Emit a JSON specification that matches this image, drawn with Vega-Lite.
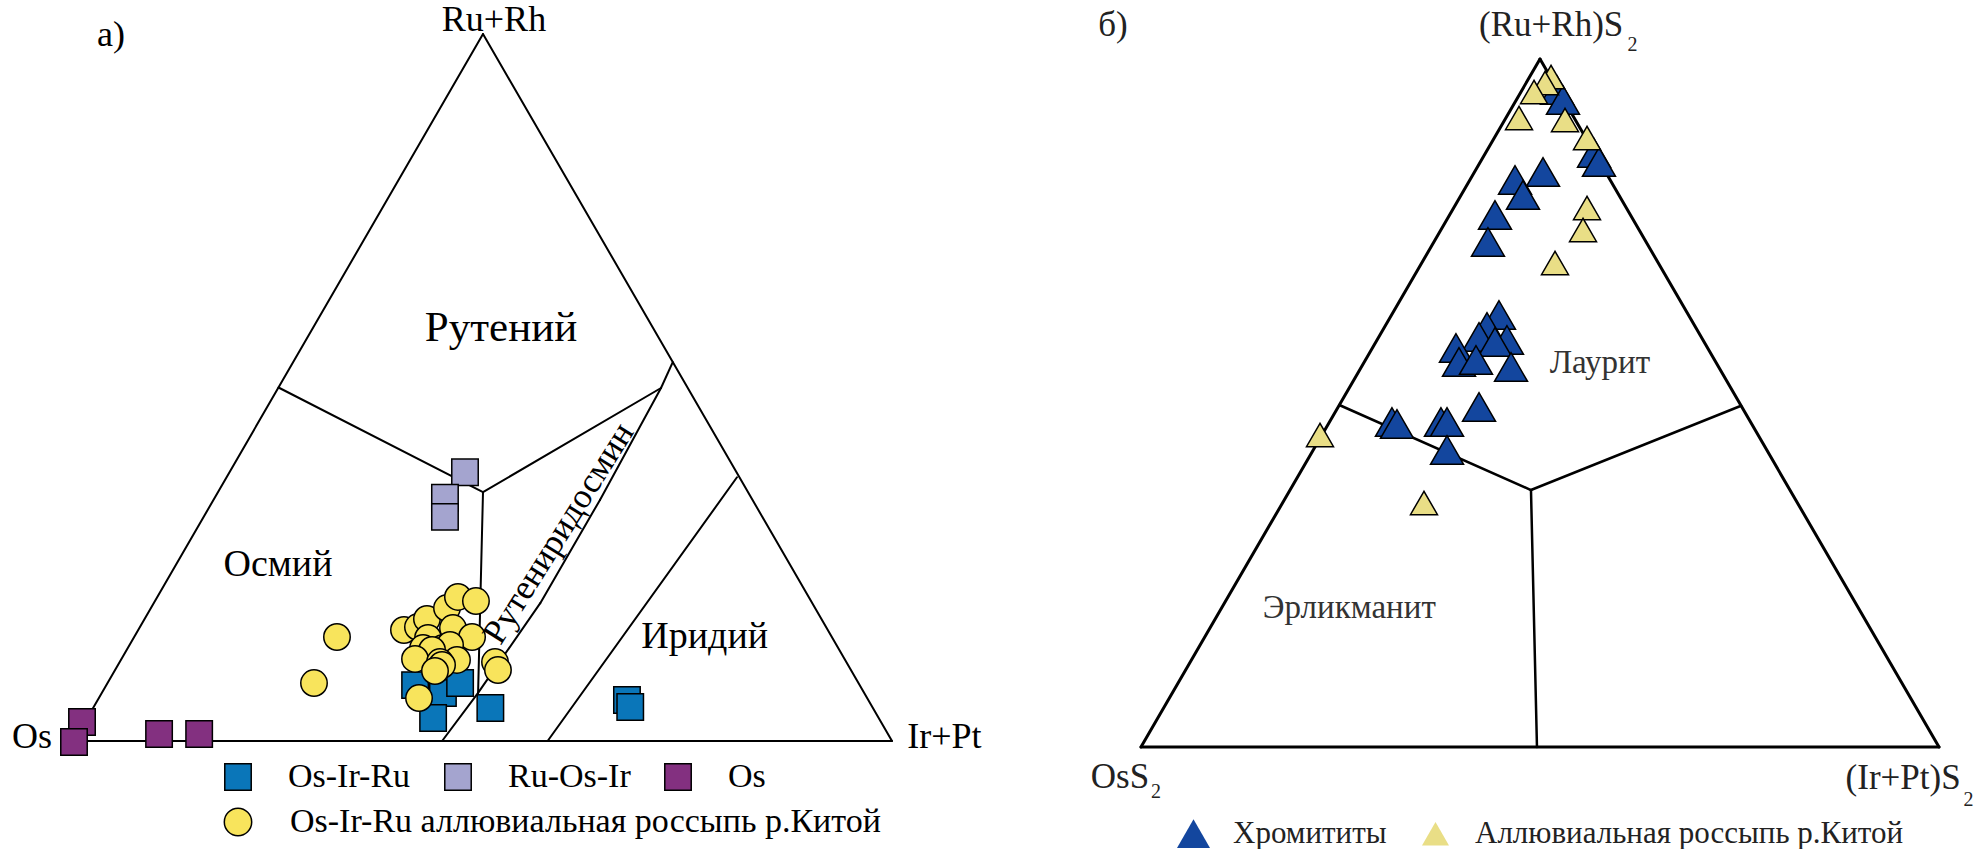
{
  "$schema": "https://vega.github.io/schema/vega-lite/v6.json",
  "padding": 0,
  "spacing": 0,
  "bounds": "flush",
  "background": "white",
  "config": {"view": {"stroke": null}},
  "resolve": {"scale": {"x": "independent", "y": "independent", "color": "independent", "shape": "independent", "size": "independent"}, "legend": {"color": "independent", "shape": "independent"}},
  "datasets": {
    "a_outline": [{"x": 0, "y": 0, "x2": 100, "y2": 0}, {"x": 100, "y": 0, "x2": 50, "y2": 100}, {"x": 50, "y": 100, "x2": 0, "y2": 0}],
    "a_bounds": [
      {"x": 25.0, "y": 50.0, "x2": 50.0, "y2": 35.2},
      {"x": 50.0, "y": 35.2, "x2": 71.76, "y2": 49.93},
      {"x": 71.76, "y": 49.93, "x2": 73.2, "y2": 53.6},
      {"x": 50.0, "y": 35.2, "x2": 49.4, "y2": 6.8},
      {"x": 45.0, "y": 0, "x2": 49.4, "y2": 6.8},
      {"x": 49.4, "y": 6.8, "x2": 57.0, "y2": 19.5},
      {"x": 57.0, "y": 19.5, "x2": 64.3, "y2": 34.1},
      {"x": 64.3, "y": 34.1, "x2": 71.76, "y2": 49.93},
      {"x": 57.9, "y": 0, "x2": 81.05, "y2": 37.3}
    ],
    "a_squares": [
      {"type": "Os", "x": 0.98, "y": 2.69},
      {"type": "Os", "x": 0.0, "y": -0.14},
      {"type": "Os", "x": 10.4, "y": 0.99},
      {"type": "Os", "x": 15.3, "y": 0.99},
      {"type": "Ru-Os-Ir", "x": 47.8, "y": 38.0},
      {"type": "Ru-Os-Ir", "x": 45.35, "y": 34.4},
      {"type": "Ru-Os-Ir", "x": 45.35, "y": 31.7},
      {"type": "Os-Ir-Ru", "x": 41.7, "y": 7.9},
      {"type": "Os-Ir-Ru", "x": 45.1, "y": 6.8},
      {"type": "Os-Ir-Ru", "x": 47.2, "y": 8.2},
      {"type": "Os-Ir-Ru", "x": 43.9, "y": 3.25},
      {"type": "Os-Ir-Ru", "x": 50.9, "y": 4.67},
      {"type": "Os-Ir-Ru", "x": 67.6, "y": 5.8},
      {"type": "Os-Ir-Ru", "x": 68.0, "y": 4.8}
    ],
    "a_circles": [
      {"type": "Os-Ir-Ru аллювиальная россыпь р.Китой", "x": 32.15, "y": 14.71},
      {"type": "Os-Ir-Ru аллювиальная россыпь р.Китой", "x": 29.34, "y": 8.2},
      {"type": "Os-Ir-Ru аллювиальная россыпь р.Китой", "x": 40.34, "y": 15.7},
      {"type": "Os-Ir-Ru аллювиальная россыпь р.Китой", "x": 42.05, "y": 16.12},
      {"type": "Os-Ir-Ru аллювиальная россыпь р.Китой", "x": 43.15, "y": 17.26},
      {"type": "Os-Ir-Ru аллювиальная россыпь р.Китой", "x": 45.6, "y": 18.81},
      {"type": "Os-Ir-Ru аллювиальная россыпь р.Китой", "x": 46.94, "y": 20.37},
      {"type": "Os-Ir-Ru аллювиальная россыпь р.Китой", "x": 49.14, "y": 19.8},
      {"type": "Os-Ir-Ru аллювиальная россыпь р.Китой", "x": 46.33, "y": 15.98},
      {"type": "Os-Ir-Ru аллювиальная россыпь р.Китой", "x": 48.66, "y": 14.71},
      {"type": "Os-Ir-Ru аллювиальная россыпь р.Китой", "x": 43.28, "y": 14.57},
      {"type": "Os-Ir-Ru аллювиальная россыпь р.Китой", "x": 45.11, "y": 13.15},
      {"type": "Os-Ir-Ru аллювиальная россыпь р.Китой", "x": 42.67, "y": 13.15},
      {"type": "Os-Ir-Ru аллювиальная россыпь р.Китой", "x": 45.97, "y": 13.58},
      {"type": "Os-Ir-Ru аллювиальная россыпь р.Китой", "x": 43.77, "y": 12.87},
      {"type": "Os-Ir-Ru аллювиальная россыпь р.Китой", "x": 41.69, "y": 11.6},
      {"type": "Os-Ir-Ru аллювиальная россыпь р.Китой", "x": 46.82, "y": 11.46},
      {"type": "Os-Ir-Ru аллювиальная россыпь р.Китой", "x": 44.74, "y": 11.17},
      {"type": "Os-Ir-Ru аллювиальная россыпь р.Китой", "x": 44.99, "y": 10.75},
      {"type": "Os-Ir-Ru аллювиальная россыпь р.Китой", "x": 44.13, "y": 9.9},
      {"type": "Os-Ir-Ru аллювиальная россыпь р.Китой", "x": 42.18, "y": 6.08},
      {"type": "Os-Ir-Ru аллювиальная россыпь р.Китой", "x": 51.47, "y": 11.17},
      {"type": "Os-Ir-Ru аллювиальная россыпь р.Китой", "x": 51.83, "y": 10.04}
    ],
    "a_vlabels": [
      {"x": 51.34, "y": 102.0, "t": "Ru+Rh"},
      {"x": -5.13, "y": 0.57, "t": "Os"},
      {"x": 106.4, "y": 0.57, "t": "Ir+Pt"},
      {"x": 4.52, "y": 99.86, "t": "а)"}
    ],
    "a_rlabels": [
      {"x": 24.94, "y": 24.89, "t": "Осмий"},
      {"x": 77.1, "y": 14.75, "t": "Иридий"}
    ],
    "a_rlabel_big": [{"x": 52.2, "y": 58.4, "t": "Рутений"}],
    "a_rot": [{"x": 59.2, "y": 29.4, "t": "Рутениридосмин"}],
    "b_outline": [{"x": 0, "y": 0, "x2": 100, "y2": 0}, {"x": 100, "y": 0, "x2": 50, "y2": 100}, {"x": 50, "y": 100, "x2": 0, "y2": 0}],
    "b_bounds": [
      {"x": 24.85, "y": 49.71, "x2": 48.87, "y2": 37.35},
      {"x": 48.87, "y": 37.35, "x2": 75.2, "y2": 49.6},
      {"x": 48.87, "y": 37.35, "x2": 49.62, "y2": 0}
    ],
    "b_points": [
      {"type": "Хромититы", "x": 52.13, "y": 95.49},
      {"type": "Хромититы", "x": 52.88, "y": 94.04},
      {"type": "Хромититы", "x": 56.77, "y": 86.34},
      {"type": "Хромититы", "x": 57.39, "y": 85.03},
      {"type": "Хромититы", "x": 50.38, "y": 83.58},
      {"type": "Хромититы", "x": 46.87, "y": 82.41},
      {"type": "Хромититы", "x": 47.87, "y": 80.23},
      {"type": "Хромититы", "x": 44.36, "y": 77.33},
      {"type": "Хромититы", "x": 43.48, "y": 73.4},
      {"type": "Хромититы", "x": 44.86, "y": 62.79},
      {"type": "Хромититы", "x": 43.36, "y": 61.05},
      {"type": "Хромититы", "x": 45.86, "y": 59.16},
      {"type": "Хромититы", "x": 42.36, "y": 59.59},
      {"type": "Хромититы", "x": 44.36, "y": 58.87},
      {"type": "Хромититы", "x": 39.47, "y": 57.99},
      {"type": "Хромититы", "x": 39.85, "y": 55.96},
      {"type": "Хромититы", "x": 41.98, "y": 56.25},
      {"type": "Хромититы", "x": 46.37, "y": 55.23},
      {"type": "Хромититы", "x": 42.36, "y": 49.42},
      {"type": "Хромититы", "x": 31.45, "y": 47.24},
      {"type": "Хромититы", "x": 32.08, "y": 46.95},
      {"type": "Хромититы", "x": 37.59, "y": 47.24},
      {"type": "Хромититы", "x": 38.35, "y": 47.24},
      {"type": "Хромититы", "x": 38.35, "y": 43.17},
      {"type": "Аллювиальная россыпь р.Китой", "x": 51.38, "y": 97.38},
      {"type": "Аллювиальная россыпь р.Китой", "x": 50.63, "y": 96.51},
      {"type": "Аллювиальная россыпь р.Китой", "x": 49.25, "y": 95.2},
      {"type": "Аллювиальная россыпь р.Китой", "x": 47.37, "y": 91.42},
      {"type": "Аллювиальная россыпь р.Китой", "x": 53.13, "y": 91.13},
      {"type": "Аллювиальная россыпь р.Китой", "x": 55.89, "y": 88.52},
      {"type": "Аллювиальная россыпь р.Китой", "x": 55.89, "y": 78.34},
      {"type": "Аллювиальная россыпь р.Китой", "x": 55.39, "y": 75.15},
      {"type": "Аллювиальная россыпь р.Китой", "x": 51.88, "y": 70.35},
      {"type": "Аллювиальная россыпь р.Китой", "x": 22.43, "y": 45.35},
      {"type": "Аллювиальная россыпь р.Китой", "x": 35.46, "y": 35.47}
    ],
    "b_vlabels": [
      {"x": 51.4, "y": 104.9, "t": "(Ru+Rh)S"},
      {"x": -2.63, "y": -4.36, "t": "OsS"},
      {"x": 95.5, "y": -4.5, "t": "(Ir+Pt)S"},
      {"x": -3.51, "y": 104.9, "t": "б)"}
    ],
    "b_subs": [
      {"x": 61.6, "y": 102.0, "t": "2"},
      {"x": 1.88, "y": -6.54, "t": "2"},
      {"x": 103.7, "y": -7.7, "t": "2"}
    ],
    "b_rlabels": [
      {"x": 57.5, "y": 55.8, "t": "Лаурит"},
      {"x": 26.1, "y": 20.2, "t": "Эрликманит"}
    ]
  },
  "hconcat": [
    {
      "width": 1000,
      "height": 849,
      "resolve": {"scale": {"color": "independent"}, "legend": {"color": "independent"}},
      "encoding": {
        "x": {"field": "x", "type": "quantitative", "scale": {"domain": [-9.0465, 113.203], "nice": false, "zero": false}, "axis": null},
        "y": {"field": "y", "type": "quantitative", "scale": {"domain": [-15.276, 104.809], "nice": false, "zero": false}, "axis": null}
      },
      "layer": [
        {"data": {"name": "a_outline"}, "mark": {"type": "rule", "stroke": "black", "strokeWidth": 2, "strokeCap": "round"}, "encoding": {"x2": {"field": "x2"}, "y2": {"field": "y2"}}},
        {"data": {"name": "a_bounds"}, "mark": {"type": "rule", "stroke": "black", "strokeWidth": 2, "strokeCap": "round"}, "encoding": {"x2": {"field": "x2"}, "y2": {"field": "y2"}}},
        {
          "data": {"name": "a_squares"},
          "mark": {"type": "point", "shape": "square", "filled": true, "opacity": 1, "size": 700, "stroke": "black", "strokeWidth": 1.5},
          "encoding": {
            "color": {"field": "type", "type": "nominal", "sort": null,
              "scale": {"domain": ["Os-Ir-Ru", "Ru-Os-Ir", "Os"], "range": ["#0A76B9", "#A4A4CF", "#833080"]},
              "legend": {"title": null, "orient": "none", "legendX": 221, "legendY": 760, "direction": "horizontal", "symbolType": "square", "symbolSize": 700, "symbolStrokeColor": "black", "symbolStrokeWidth": 1.5, "symbolOpacity": 1, "labelFont": "Liberation Serif", "labelFontSize": 34, "labelColor": "black", "labelLimit": 0, "labelOffset": 33, "columnPadding": 30, "padding": 0}}
          }
        },
        {
          "data": {"name": "a_circles"},
          "mark": {"type": "point", "shape": "circle", "filled": true, "opacity": 1, "size": 700, "stroke": "black", "strokeWidth": 1.5},
          "encoding": {
            "color": {"field": "type", "type": "nominal",
              "scale": {"domain": ["Os-Ir-Ru аллювиальная россыпь р.Китой"], "range": ["#F8E45C"]},
              "legend": {"title": null, "orient": "none", "legendX": 221, "legendY": 805, "direction": "horizontal", "symbolType": "circle", "symbolSize": 750, "symbolStrokeColor": "black", "symbolStrokeWidth": 1.5, "symbolOpacity": 1, "labelFont": "Liberation Serif", "labelFontSize": 34, "labelColor": "black", "labelLimit": 0, "labelOffset": 35, "padding": 0}}
          }
        },
        {"data": {"name": "a_vlabels"}, "mark": {"type": "text", "font": "Liberation Serif", "fontSize": 36, "align": "center", "baseline": "middle", "color": "black"}, "encoding": {"text": {"field": "t"}}},
        {"data": {"name": "a_rlabels"}, "mark": {"type": "text", "font": "Liberation Serif", "fontSize": 38, "align": "center", "baseline": "middle", "color": "black"}, "encoding": {"text": {"field": "t"}}},
        {"data": {"name": "a_rlabel_big"}, "mark": {"type": "text", "font": "Liberation Serif", "fontSize": 43, "align": "center", "baseline": "middle", "color": "black"}, "encoding": {"text": {"field": "t"}}},
        {"data": {"name": "a_rot"}, "mark": {"type": "text", "font": "Liberation Serif", "fontSize": 35, "align": "center", "baseline": "middle", "color": "black", "angle": -58}, "encoding": {"text": {"field": "t"}}}
      ]
    },
    {
      "width": 987,
      "height": 849,
      "encoding": {
        "x": {"field": "x", "type": "quantitative", "scale": {"domain": [-17.669, 106.015], "nice": false, "zero": false}, "axis": null},
        "y": {"field": "y", "type": "quantitative", "scale": {"domain": [-14.826, 108.576], "nice": false, "zero": false}, "axis": null}
      },
      "layer": [
        {"data": {"name": "b_outline"}, "mark": {"type": "rule", "stroke": "black", "strokeWidth": 3, "strokeCap": "round"}, "encoding": {"x2": {"field": "x2"}, "y2": {"field": "y2"}}},
        {"data": {"name": "b_bounds"}, "mark": {"type": "rule", "stroke": "black", "strokeWidth": 2.5, "strokeCap": "round"}, "encoding": {"x2": {"field": "x2"}, "y2": {"field": "y2"}}},
        {
          "data": {"name": "b_points"},
          "mark": {"type": "point", "filled": true, "opacity": 1, "stroke": "black", "strokeWidth": 1.5},
          "encoding": {
            "color": {"field": "type", "type": "nominal", "sort": null,
              "scale": {"domain": ["Хромититы", "Аллювиальная россыпь р.Китой"], "range": ["#13469E", "#E9DE86"]},
              "legend": {"title": null, "orient": "none", "legendX": 176, "legendY": 816, "direction": "horizontal", "columns": 2, "symbolSize": 484, "symbolStrokeColor": "black", "symbolStrokeWidth": 1.5, "symbolOpacity": 1, "labelFont": "Liberation Serif", "labelFontSize": 31, "labelColor": "#222", "labelLimit": 0, "labelOffset": 22, "columnPadding": 31, "padding": 0}},
            "shape": {"field": "type", "type": "nominal", "sort": null,
              "scale": {"domain": ["Хромититы", "Аллювиальная россыпь р.Китой"], "range": ["triangle-up", "triangle-up"]},
              "legend": {"title": null, "orient": "none", "legendX": 176, "legendY": 816, "direction": "horizontal", "columns": 2, "symbolSize": 484, "symbolStrokeColor": "black", "symbolStrokeWidth": 1.5, "symbolOpacity": 1, "labelFont": "Liberation Serif", "labelFontSize": 31, "labelColor": "#222", "labelLimit": 0, "labelOffset": 22, "columnPadding": 31, "padding": 0}},
            "size": {"field": "type", "type": "nominal", "scale": {"domain": ["Хромититы", "Аллювиальная россыпь р.Китой"], "range": [1090, 730]}, "legend": null}
          }
        },
        {"data": {"name": "b_vlabels"}, "mark": {"type": "text", "font": "Liberation Serif", "fontSize": 35, "align": "center", "baseline": "middle", "color": "#222"}, "encoding": {"text": {"field": "t"}}},
        {"data": {"name": "b_subs"}, "mark": {"type": "text", "font": "Liberation Serif", "fontSize": 20, "align": "center", "baseline": "middle", "color": "#222"}, "encoding": {"text": {"field": "t"}}},
        {"data": {"name": "b_rlabels"}, "mark": {"type": "text", "font": "Liberation Serif", "fontSize": 33, "align": "center", "baseline": "middle", "color": "#333"}, "encoding": {"text": {"field": "t"}}}
      ]
    }
  ]
}
